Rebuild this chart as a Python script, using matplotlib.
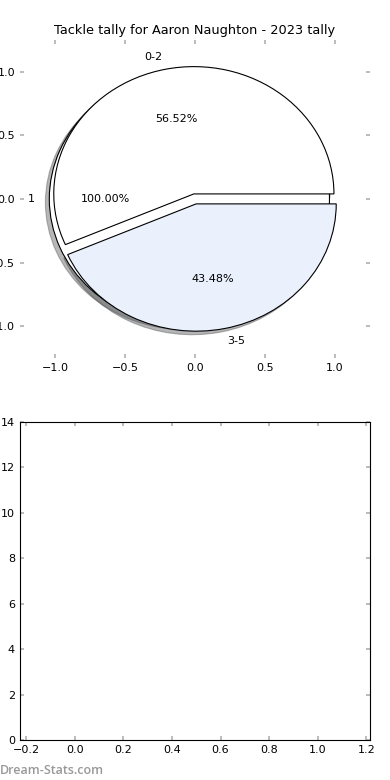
import matplotlib
matplotlib.use('Agg')
from matplotlib import pyplot as plt

# pie data
outer_labels = ['1']
outer_values = [1]
outer_explode = [0.04]
tally_labels = ['0-2', '3-5']
tally_values = [56.52, 43.48]
tally_explode = [0.04, 0.04]
tally_colors = ['white', '#eaf0fc']

# bottom panel has no bars
bar_x = []
bar_heights = []

plt.rcParams['font.size'] = 8
plt.rcParams['xtick.direction'] = 'in'
plt.rcParams['ytick.direction'] = 'in'
plt.rcParams['xtick.top'] = True
plt.rcParams['ytick.right'] = True
plt.rcParams['xtick.color'] = '#b0b0b0'
plt.rcParams['ytick.color'] = '#b0b0b0'
plt.rcParams['xtick.labelcolor'] = 'black'
plt.rcParams['ytick.labelcolor'] = 'black'
plt.rcParams['xtick.major.size'] = 3
plt.rcParams['ytick.major.size'] = 3
plt.rcParams['xtick.major.width'] = 1.2
plt.rcParams['ytick.major.width'] = 1.2

fig = plt.figure(figsize=(3.9, 7.8), dpi=100)
ax1 = fig.add_axes([0.051, 0.541, 0.898, 0.408])
ax2 = fig.add_axes([0.051, 0.051, 0.898, 0.408])

wedge_style = {'edgecolor': 'black', 'linewidth': 0.8}
shadow_style = {'alpha': 0.4}
ax1.pie(outer_values, labels=outer_labels, autopct='%1.2f%%', colors=['white'],
        explode=outer_explode, shadow=shadow_style, wedgeprops=wedge_style,
        frame=True, textprops={'fontsize': 8})
ax1.pie(tally_values, labels=tally_labels, autopct='%1.2f%%', colors=tally_colors,
        explode=tally_explode, shadow=shadow_style, wedgeprops=wedge_style,
        frame=True, textprops={'fontsize': 8})
ax1.set_aspect('auto')
ax1.set_xlim(-1.25, 1.25)
ax1.set_ylim(-1.25, 1.25)
ax1.set_xticks([-1.0, -0.5, 0.0, 0.5, 1.0])
ax1.set_yticks([-1.0, -0.5, 0.0, 0.5, 1.0])
ax1.set_frame_on(False)
ax1.set_title('Tackle tally for Aaron Naughton - 2023 tally', fontsize=9.3, pad=4)

ax2.bar(bar_x, bar_heights)
ax2.set_xlim(-0.225, 1.215)
ax2.set_ylim(0, 14)
ax2.set_xticks([-0.2, 0.0, 0.2, 0.4, 0.6, 0.8, 1.0, 1.2])
ax2.set_yticks(range(0, 15, 2))

fig.text(0.0, 0.004, 'Dream-Stats.com', color='#999999', fontsize=9,
         family='Open Sans', fontweight='semibold', ha='left', va='bottom')

fig.savefig('out.png', dpi=100)
